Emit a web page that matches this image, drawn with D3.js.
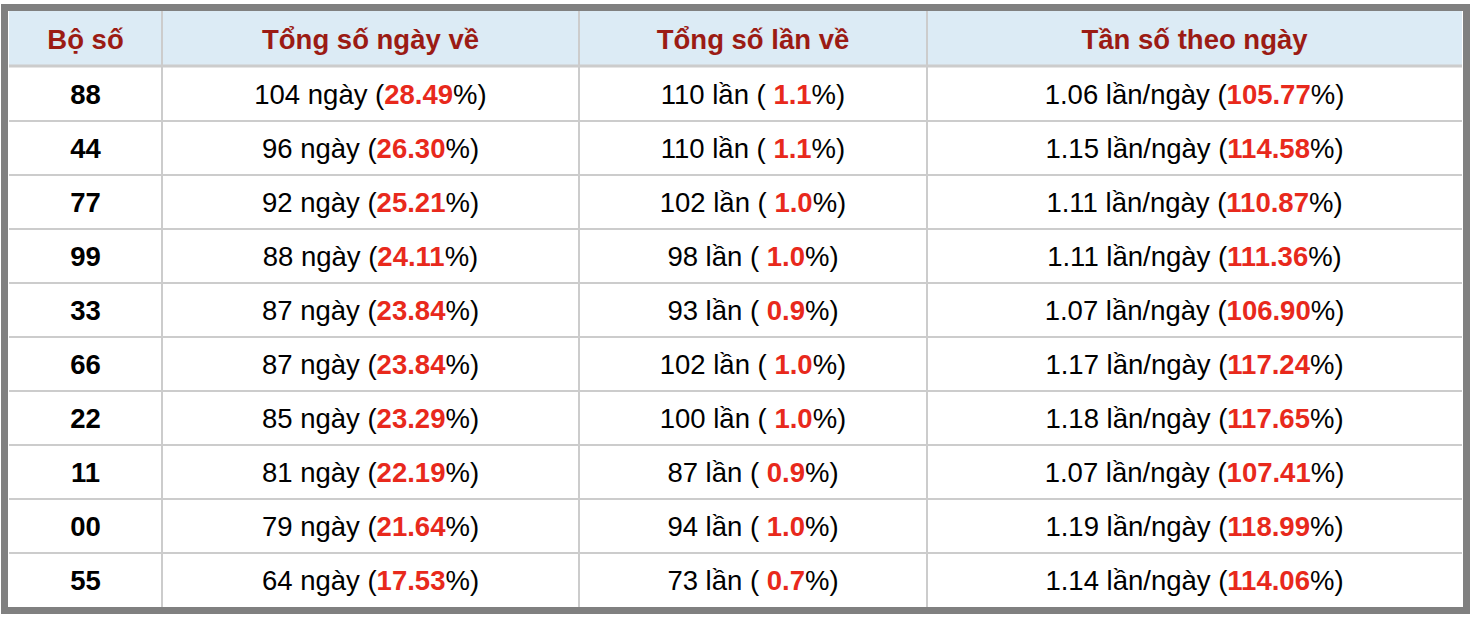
<!DOCTYPE html>
<html>
<head>
<meta charset="utf-8">
<style>
  body { margin: 0; background: #fff; }
  text { font-family: "Liberation Sans", Arial, sans-serif; }
</style>
</head>
<body>
<svg width="1474" height="620"></svg>
<script src="https://d3js.org/d3.v7.min.js"></script>
<script>
const headers = ["Bộ số", "Tổng số ngày về", "Tổng số lần về", "Tần số theo ngày"]
const boSo = ["88", "44", "77", "99", "33", "66", "22", "11", "00", "55"]
const soNgay = [104, 96, 92, 88, 87, 87, 85, 81, 79, 64]
const pctNgay = ["28.49", "26.30", "25.21", "24.11", "23.84", "23.84", "23.29", "22.19", "21.64", "17.53"]
const soLan = [110, 110, 102, 98, 93, 102, 100, 87, 94, 73]
const pctLan = ["1.1", "1.1", "1.0", "1.0", "0.9", "1.0", "1.0", "0.9", "1.0", "0.7"]
const tanSo = ["1.06", "1.15", "1.11", "1.11", "1.07", "1.17", "1.18", "1.07", "1.19", "1.14"]
const pctTanSo = ["105.77", "114.58", "110.87", "111.36", "106.90", "117.24", "117.65", "107.41", "118.99", "114.06"]

const svg = d3.select("svg")
const colEdges = [9, 162, 579, 927, 1462]
const headTop = 11, headBottom = 66, bodyBottom = 607
const red = "#e8291c", dark = "#9b1b14"

const y = d3.scaleBand().domain(d3.range(boSo.length)).range([headBottom + 1, bodyBottom])

// outer frame
svg.append("rect").attr("x", 4.5).attr("y", 7.5).attr("width", 1462).attr("height", 603)
  .attr("fill", "#fff").attr("stroke", "#808080").attr("stroke-width", 7)
svg.append("rect").attr("x", 9).attr("y", headTop).attr("width", 1453).attr("height", headBottom - headTop)
  .attr("fill", "#dcebf5")

// row lines
svg.append("g").selectAll("line").data(d3.range(1, boSo.length)).join("line")
  .attr("x1", 9).attr("x2", 1462)
  .attr("y1", d => y(d)).attr("y2", d => y(d))
  .attr("stroke", "#cccccc").attr("stroke-width", 2)
svg.append("line").attr("x1", 9).attr("x2", 1462).attr("y1", headBottom).attr("y2", headBottom)
  .attr("stroke", "#cccccc").attr("stroke-width", 3)
// column lines
svg.append("g").selectAll("line").data(colEdges.slice(1, -1)).join("line")
  .attr("x1", d => d).attr("x2", d => d).attr("y1", headTop).attr("y2", bodyBottom)
  .attr("stroke", "#cccccc").attr("stroke-width", 2)

const cx = i => (colEdges[i] + colEdges[i + 1]) / 2

svg.append("g").selectAll("text").data(headers).join("text")
  .attr("x", (d, i) => cx(i)).attr("y", (headTop + headBottom) / 2 + 10)
  .attr("text-anchor", "middle").attr("font-size", 27.5).attr("font-weight", "bold")
  .attr("fill", dark).text(d => d)

const rows = svg.append("g").selectAll("g").data(boSo).join("g")
  .attr("transform", (d, i) => `translate(0,${y(i) + y.bandwidth() / 2 + 10})`)
  .attr("font-size", 27.5)

rows.append("text").attr("x", cx(0)).attr("text-anchor", "middle").attr("font-weight", "bold")
  .text(d => d)

function cell(sel, col, pre, mid, post) {
  const t = sel.append("text").attr("x", cx(col)).attr("text-anchor", "middle")
  t.append("tspan").text(pre)
  t.append("tspan").attr("fill", red).attr("font-weight", "bold").text(mid)
  t.append("tspan").text(post)
}
rows.each(function(d, i) {
  const g = d3.select(this)
  cell(g, 1, soNgay[i] + " ngày (", pctNgay[i], "%)")
  cell(g, 2, soLan[i] + " lần ( ", pctLan[i], "%)")
  cell(g, 3, tanSo[i] + " lần/ngày (", pctTanSo[i], "%)")
})
</script>
</body>
</html>
